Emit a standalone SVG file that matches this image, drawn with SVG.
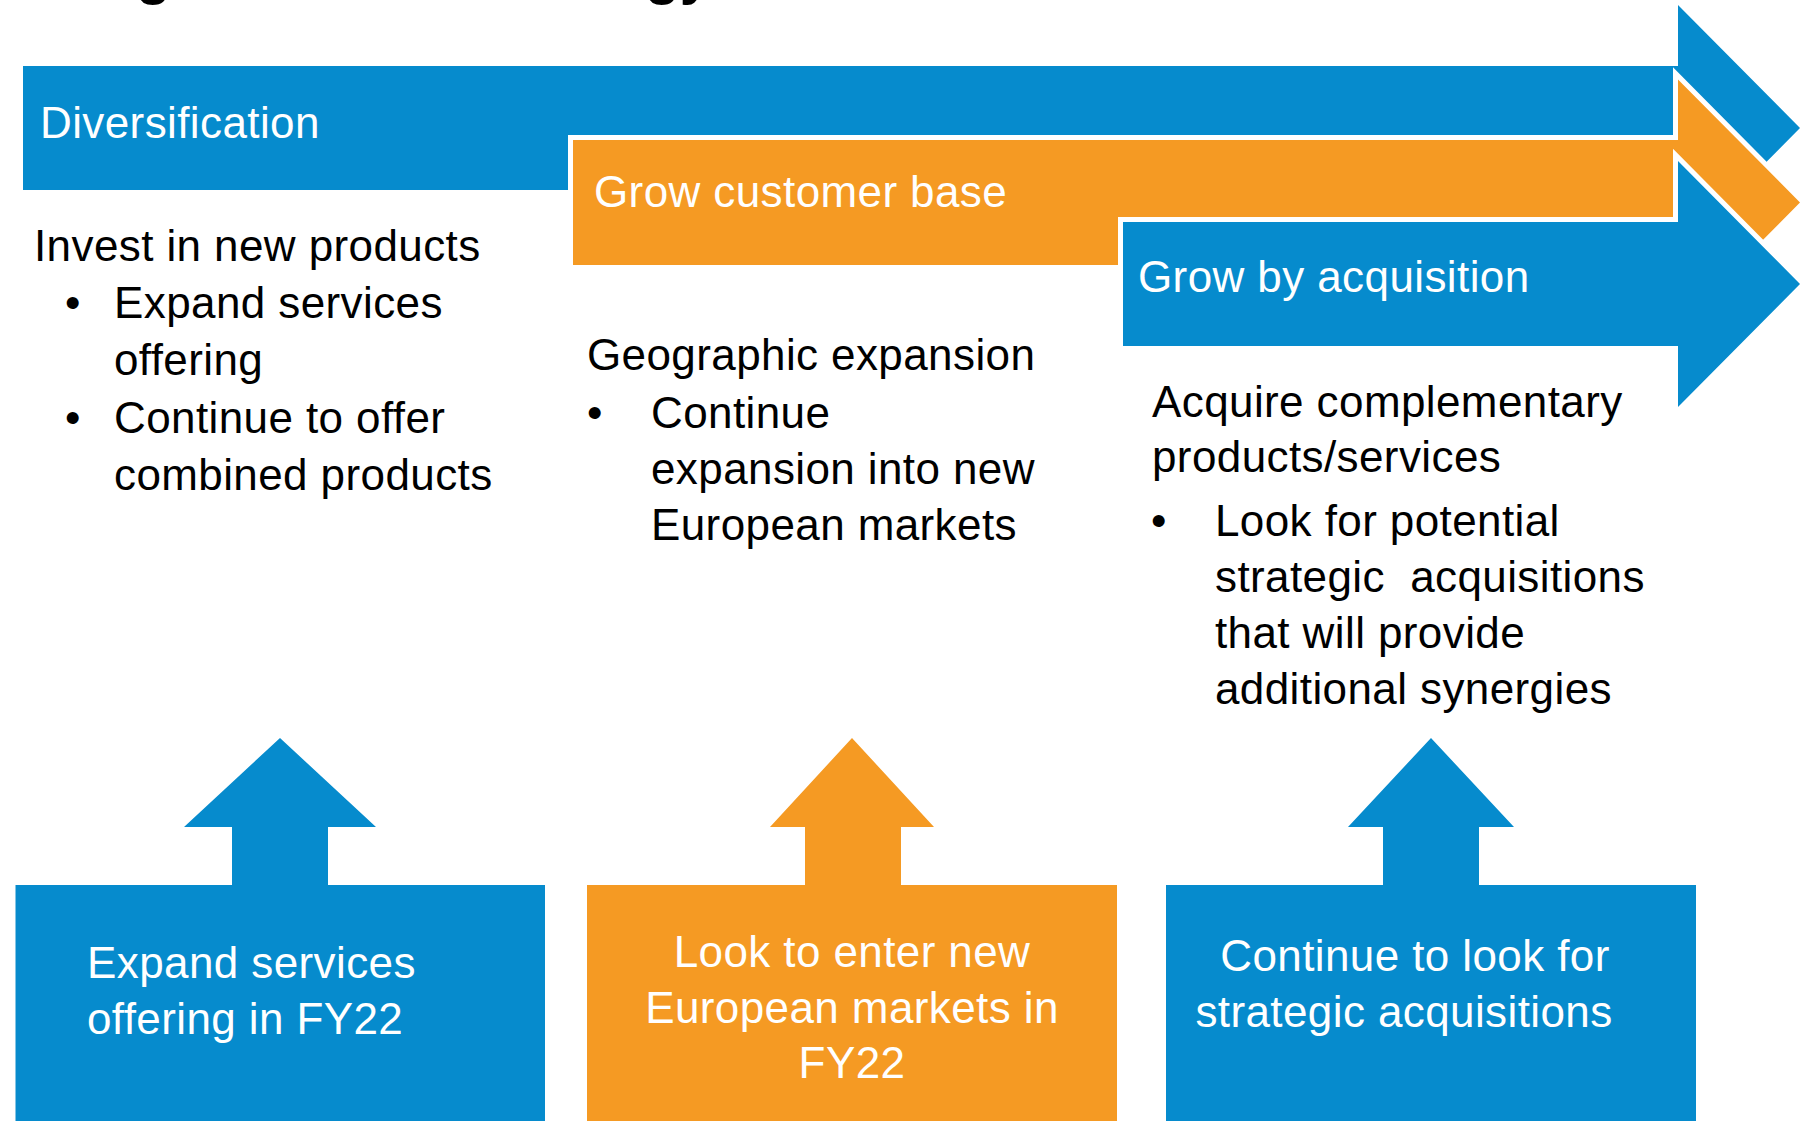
<svg xmlns="http://www.w3.org/2000/svg" width="1800" height="1121" viewBox="0 0 1800 1121">
  <style>
    .blue { fill: #068BCD; }
    .orange { fill: #F59A23; }
    .outl { stroke: #FFFFFF; stroke-width: 10; stroke-linejoin: miter; paint-order: stroke; }
    text { font-family: "Liberation Sans", Arial, sans-serif; font-size: 44px; letter-spacing: 0.4px; }
    .w { fill: #FFFFFF; }
    .k { fill: #000000; }
    .mid { text-anchor: middle; }
    .title { font-weight: bold; font-size: 57px; fill: #000000; letter-spacing: 0; }
  </style>
  <rect x="0" y="0" width="1800" height="1121" fill="#FFFFFF"/>

  <g id="title">
    <text class="title" x="136" y="-7">g</text>
    <text class="title" x="645" y="-7">gy</text>
  </g>

  <g id="node-diversification">
    <path class="blue" d="M23,66 H1678 V5 L1800,128 L1678,251 V190 H23 Z"/>
    <text class="w" x="40" y="138">Diversification</text>
  </g>

  <g id="node-grow-customer-base">
    <path class="orange outl" d="M573,140 H1678 V79.5 L1800,202.5 L1678,325.5 V265 H573 Z"/>
    <text class="w" x="594" y="207">Grow customer base</text>
  </g>

  <g id="node-grow-by-acquisition">
    <path class="blue outl" d="M1123,222 H1678 V161 L1800,284 L1678,407 V346 H1123 Z"/>
    <text class="w" x="1138" y="292">Grow by acquisition</text>
  </g>

  <g id="node-col1-text">
    <text class="k" x="34" y="261">Invest in new products</text>
    <text class="k" x="65" y="318">•</text>
    <text class="k" x="114" y="318">Expand services</text>
    <text class="k" x="114" y="375">offering</text>
    <text class="k" x="65" y="433">•</text>
    <text class="k" x="114" y="433">Continue to offer</text>
    <text class="k" x="114" y="490">combined products</text>
  </g>

  <g id="node-col2-text">
    <text class="k" x="587" y="370">Geographic expansion</text>
    <text class="k" x="587" y="428">•</text>
    <text class="k" x="651" y="428">Continue</text>
    <text class="k" x="651" y="484">expansion into new</text>
    <text class="k" x="651" y="540">European markets</text>
  </g>

  <g id="node-col3-text">
    <text class="k" x="1152" y="417">Acquire complementary</text>
    <text class="k" x="1152" y="472">products/services</text>
    <text class="k" x="1151" y="536">•</text>
    <text class="k" x="1215" y="536">Look for potential</text>
    <text class="k" x="1215" y="592" xml:space="preserve">strategic  acquisitions</text>
    <text class="k" x="1215" y="648">that will provide</text>
    <text class="k" x="1215" y="704">additional synergies</text>
  </g>

  <g id="node-box1">
    <path class="blue" d="M15.5,885 H232 V827 H184 L280,738 L376,827 H328 V885 H545 V1121 H15.5 Z"/>
    <text class="w" x="87" y="978">Expand services</text>
    <text class="w" x="87" y="1034">offering in FY22</text>
  </g>

  <g id="node-box2">
    <path class="orange" d="M587,885 H805 V827 H770 L852,738 L934,827 H901 V885 H1117 V1121 H587 Z"/>
    <text class="w mid" x="852" y="967">Look to enter new</text>
    <text class="w mid" x="852" y="1023">European markets in</text>
    <text class="w mid" x="852" y="1078">FY22</text>
  </g>

  <g id="node-box3">
    <path class="blue" d="M1166,885 H1383 V827 H1348 L1431,738 L1514,827 H1479 V885 H1696 V1121 H1166 Z"/>
    <text class="w mid" x="1415" y="971">Continue to look for</text>
    <text class="w mid" x="1404" y="1027">strategic acquisitions</text>
  </g>

  <g id="connectors"></g>
</svg>
